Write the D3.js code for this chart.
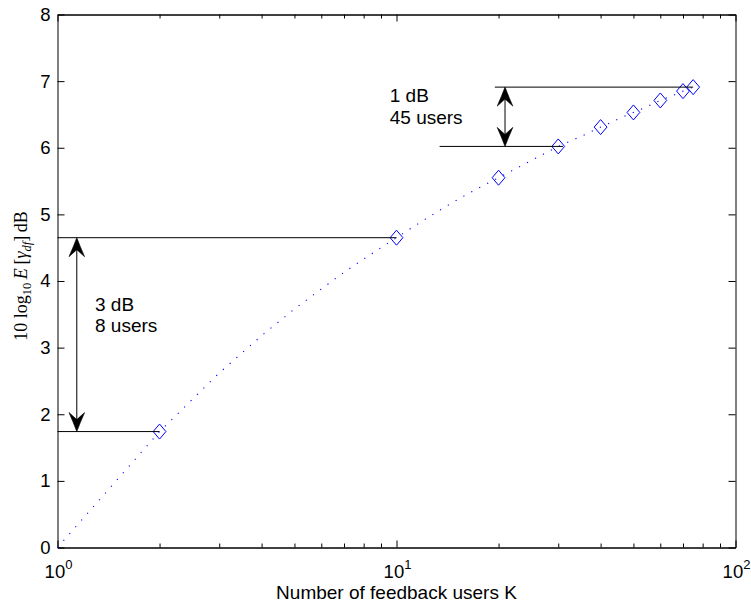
<!DOCTYPE html>
<html>
<head>
<meta charset="utf-8">
<script src="https://cdn.jsdelivr.net/npm/d3@7/dist/d3.min.js"></script>
<style>
  html, body { margin: 0; padding: 0; background: #fff; }
  svg { display: block; }
</style>
</head>
<body>
<svg id="chart" width="751" height="609"></svg>
<script>
// Expected feedback gain (dB) versus the number of feedback users K
const curveK   = [1, 2, 3, 4, 5, 6, 7, 8, 9, 10, 12, 14, 16, 18, 20, 25, 30, 35, 40, 45, 50, 55, 60, 65, 70, 75];
const curveVal = [0, 1.74, 2.62, 3.18, 3.58, 3.88, 4.13, 4.33, 4.50, 4.65, 4.91, 5.12, 5.29, 5.43, 5.55,
                  5.81, 6.02, 6.17, 6.31, 6.43, 6.53, 6.62, 6.71, 6.78, 6.85, 6.91];

// Markers at the simulated points
const markerK   = [2, 10, 20, 30, 40, 50, 60, 70, 75];
const markerVal = [1.74, 4.65, 5.55, 6.02, 6.31, 6.53, 6.71, 6.85, 6.91];

// Axis ticks
const xMajorTicks = [1, 10, 100];
const xMinorTicks = [2, 3, 4, 5, 6, 7, 8, 9, 20, 30, 40, 50, 60, 70, 80, 90];
const yTicks = [0, 1, 2, 3, 4, 5, 6, 7, 8];

// Gain brackets: [low value, high value] and their two text lines
const bracketLow   = [1.74, 6.02];
const bracketHigh  = [4.65, 6.91];
const bracketText  = [["3 dB", "8 users"], ["1 dB", "45 users"]];

const xLabel = "Number of feedback users K";

const svg = d3.select("#chart");
const L = 57.5, R = 735.5, T = 14.5, B = 547.5;
const x = d3.scaleLog().domain([1, 100]).range([L, R]);
const y = d3.scaleLinear().domain([0, 8]).range([B, T]);

const sans = "'Liberation Sans', Arial, Helvetica, sans-serif";
const serif = "'Liberation Serif', 'Times New Roman', serif";

svg.append("rect").attr("width", 751).attr("height", 609).attr("fill", "#fff");

// ---- axes (box with inward ticks) ----
function styleAxis(g) {
  g.selectAll("path.domain").attr("stroke", "#000").attr("stroke-width", 1);
  g.selectAll(".tick line").attr("stroke", "#000").attr("stroke-width", 1);
}

svg.append("g").attr("transform", `translate(0,${B})`)
  .call(d3.axisBottom(x).tickValues(xMajorTicks).tickSizeInner(-7).tickSizeOuter(0).tickFormat(""))
  .call(styleAxis);
svg.append("g").attr("transform", `translate(0,${B})`)
  .call(d3.axisBottom(x).tickValues(xMinorTicks).tickSizeInner(-4).tickSizeOuter(0).tickFormat(""))
  .call(styleAxis);
svg.append("g").attr("transform", `translate(0,${T})`)
  .call(d3.axisTop(x).tickValues(xMajorTicks).tickSizeInner(-7).tickSizeOuter(0).tickFormat(""))
  .call(styleAxis);
svg.append("g").attr("transform", `translate(0,${T})`)
  .call(d3.axisTop(x).tickValues(xMinorTicks).tickSizeInner(-4).tickSizeOuter(0).tickFormat(""))
  .call(styleAxis);

svg.append("g").attr("transform", `translate(${L},0)`)
  .call(d3.axisLeft(y).tickValues(yTicks).tickSizeInner(-7).tickSizeOuter(0).tickPadding(7).tickFormat(d3.format("d")))
  .call(styleAxis)
  .call(g => g.selectAll(".tick text")
    .attr("font-family", sans).attr("font-size", 18.5).attr("fill", "#000"));
svg.append("g").attr("transform", `translate(${R},0)`)
  .call(d3.axisRight(y).tickValues(yTicks).tickSizeInner(-7).tickSizeOuter(0).tickFormat(""))
  .call(styleAxis);

// x tick labels as powers of ten
const xLab = svg.append("g").selectAll("text").data(xMajorTicks).join("text")
  .attr("x", d => x(d) + 1)
  .attr("y", 578)
  .attr("text-anchor", "middle")
  .attr("font-family", sans).attr("font-size", 18.5).attr("fill", "#000");
xLab.append("tspan").text("10");
xLab.append("tspan").attr("dy", -9).attr("font-size", 13).text(d => Math.round(Math.log10(d)));

// x axis title
svg.append("text")
  .attr("x", (L + R) / 2).attr("y", 599)
  .attr("text-anchor", "middle")
  .attr("font-family", sans).attr("font-size", 19).attr("fill", "#000")
  .text(xLabel);

// y axis title (math style)
const yt = svg.append("text")
  .attr("transform", "translate(27,276) rotate(-90)")
  .attr("text-anchor", "middle")
  .attr("font-family", serif).attr("font-size", 18).attr("fill", "#000");
yt.append("tspan").text("10 log");
yt.append("tspan").attr("font-size", 12.5).attr("dy", 4).text("10");
yt.append("tspan").attr("dy", -4).text("\u2009");
yt.append("tspan").attr("font-style", "italic").text("E");
yt.append("tspan").text("\u2009[");
yt.append("tspan").attr("font-style", "italic").text("\u03B3");
yt.append("tspan").attr("font-size", 12.5).attr("font-style", "italic").attr("dy", 4).text("df");
yt.append("tspan").attr("dy", -4).text("]\u2009dB");

// ---- dotted curve and diamond markers ----
const line = d3.line().x(d => x(d[0])).y(d => y(d[1]));
svg.append("path")
  .datum(d3.zip(curveK, curveVal))
  .attr("d", line)
  .attr("fill", "none")
  .attr("stroke", "#0000ff")
  .attr("stroke-width", 1.1)
  .attr("stroke-dasharray", "1.2 7.8");

const diamond = "M0,-7.5L6.4,0L0,7.5L-6.4,0Z";
svg.append("g").selectAll("path").data(d3.zip(markerK, markerVal)).join("path")
  .attr("transform", d => `translate(${x(d[0])},${y(d[1])})`)
  .attr("d", diamond)
  .attr("fill", "none")
  .attr("stroke", "#0000ff")
  .attr("stroke-width", 1);

// ---- gain brackets: reference lines, double arrows, text ----
const bracketLayout = [
  { arrowK: 1.14, topFrom: 1, topTo: 10, lowFrom: 1, lowTo: 2, textK: 1.29, textVal: 3.557 },
  { arrowK: 20.9, topFrom: 19.5, topTo: 75, lowFrom: 13.4, lowTo: 31, textK: 9.55, textVal: 6.68 }
];

function arrowHead(g, ax, tipY, dir) {
  // dir = -1 for pointing up, +1 for pointing down; slightly concave flanks, notched back
  const len = 19, half = 7.8, notch = 12;
  const s = -dir;
  const p = `M${ax},${tipY}` +
    `Q${ax + 3.4},${tipY + s * 9} ${ax + half},${tipY + s * len}` +
    `L${ax},${tipY + s * notch}` +
    `L${ax - half},${tipY + s * len}` +
    `Q${ax - 3.4},${tipY + s * 9} ${ax},${tipY}Z`;
  g.append("path").attr("d", p).attr("fill", "#000").attr("stroke", "#000").attr("stroke-width", 0.6);
}

bracketLayout.forEach((b, i) => {
  const g = svg.append("g");
  const yHi = y(bracketHigh[i]), yLo = y(bracketLow[i]);
  g.append("line").attr("x1", x(b.topFrom)).attr("x2", x(b.topTo))
    .attr("y1", yHi).attr("y2", yHi).attr("stroke", "#000").attr("stroke-width", 1);
  g.append("line").attr("x1", x(b.lowFrom)).attr("x2", x(b.lowTo))
    .attr("y1", yLo).attr("y2", yLo).attr("stroke", "#000").attr("stroke-width", 1);
  const ax = x(b.arrowK);
  g.append("line").attr("x1", ax).attr("x2", ax).attr("y1", yHi + 4).attr("y2", yLo - 4)
    .attr("stroke", "#000").attr("stroke-width", 1);
  arrowHead(g, ax, yHi, -1);
  arrowHead(g, ax, yLo, 1);
  const t = g.append("text")
    .attr("x", x(b.textK)).attr("y", y(b.textVal))
    .attr("font-family", sans).attr("font-size", 19).attr("fill", "#000");
  t.append("tspan").text(bracketText[i][0]);
  t.append("tspan").attr("x", x(b.textK)).attr("dy", 21.5).text(bracketText[i][1]);
});
</script>
</body>
</html>
